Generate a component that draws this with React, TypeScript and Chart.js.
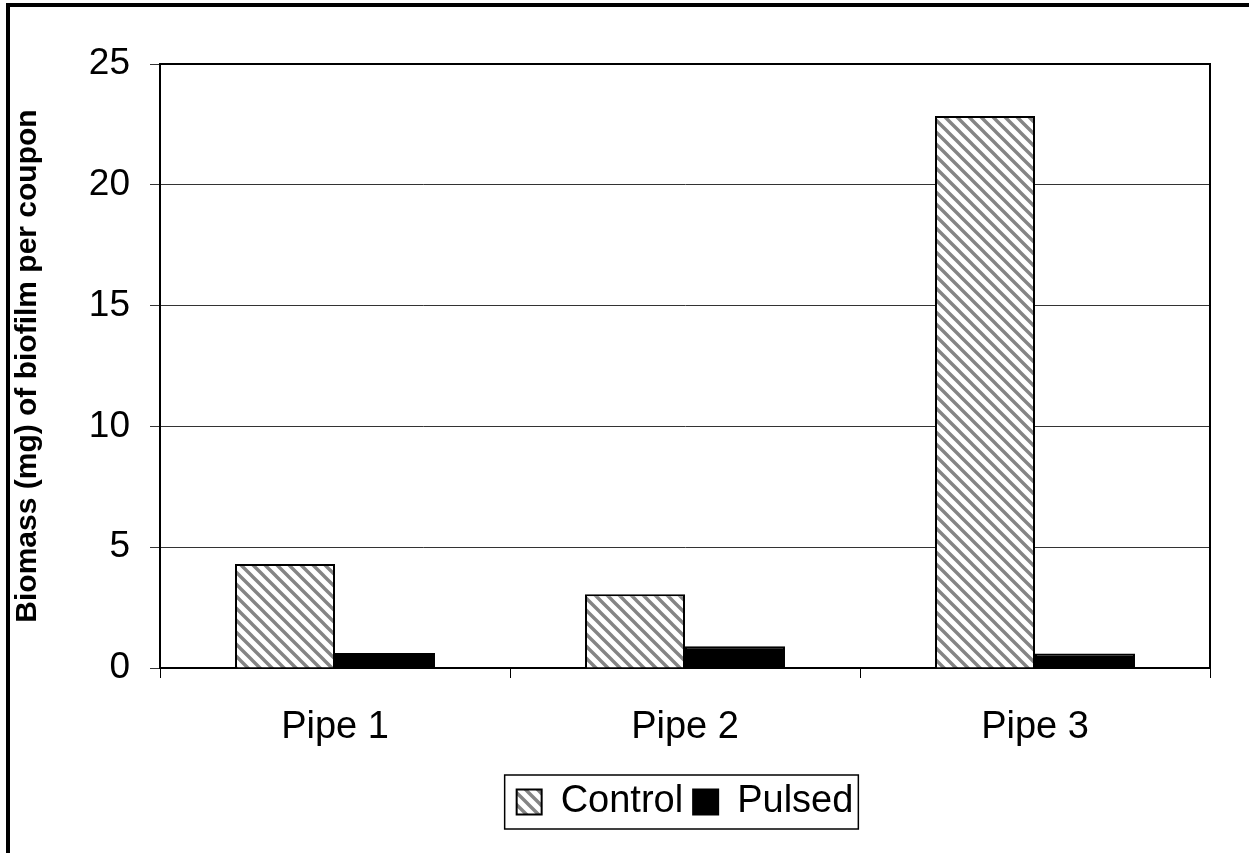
import React, { useEffect, useRef } from "react";
import { Chart, registerables } from "chart.js";

Chart.register(...registerables);

const categories = ["Pipe 1", "Pipe 2", "Pipe 3"];
const controlValues = [4.3, 3.05, 22.85];
const pulsedValues = [0.62, 0.9, 0.6];
const seriesNames = ["Control", "Pulsed"];
const yTicks = [0, 5, 10, 15, 20, 25];
const yTitle = "Biomass (mg) of biofilm per coupon";

const FONT = "'Liberation Sans', Arial, Helvetica, sans-serif";

function makeHatch(): CanvasPattern | string {
  const size = 12;
  const c = document.createElement("canvas");
  c.width = size;
  c.height = size;
  const ctx = c.getContext("2d");
  if (!ctx) return "#999";
  ctx.fillStyle = "#ffffff";
  ctx.fillRect(0, 0, size, size);
  ctx.strokeStyle = "#858585";
  ctx.lineWidth = 3.4;
  ctx.lineCap = "square";
  ctx.beginPath();
  ctx.moveTo(-size, -size);
  ctx.lineTo(size * 2, size * 2);
  ctx.moveTo(-size, 0);
  ctx.lineTo(size, size * 2);
  ctx.moveTo(0, -size);
  ctx.lineTo(size * 2, size);
  ctx.stroke();
  const p = ctx.createPattern(c, "repeat");
  return p || "#999";
}

const framePlugin = {
  id: "framePlugin",
  afterDraw(chart: any) {
    const { ctx, chartArea } = chart;
    ctx.save();
    ctx.strokeStyle = "#000";
    ctx.lineWidth = 2;
    ctx.beginPath();
    ctx.moveTo(chartArea.left, chartArea.top);
    ctx.lineTo(chartArea.right, chartArea.top);
    ctx.lineTo(chartArea.right, chartArea.bottom);
    ctx.stroke();
    const boxes = chart.legend && chart.legend.legendHitBoxes;
    if (boxes && boxes.length) {
      const first = boxes[0];
      const last = boxes[boxes.length - 1];
      const x0 = first.left - 12;
      const x1 = last.left + last.width + 5;
      const yc = first.top + first.height / 2;
      ctx.lineWidth = 1.5;
      ctx.strokeRect(x0, yc - 27, x1 - x0, 54);
    }
    ctx.fillStyle = "#000";
    ctx.fillRect(6, 3, chart.width - 6, 4);
    ctx.fillRect(6, 3, 4, chart.height - 3);
    ctx.restore();
  },
};

export default function App() {
  const ref = useRef<HTMLCanvasElement | null>(null);

  useEffect(() => {
    if (!ref.current) return;
    const hatch = makeHatch();
    const chart = new Chart(ref.current, {
      type: "bar",
      data: {
        labels: categories,
        datasets: [
          {
            label: seriesNames[0],
            data: controlValues,
            backgroundColor: hatch as any,
            borderColor: "#000",
            borderWidth: 2,
            categoryPercentage: 0.5714,
            barPercentage: 1.0,
          },
          {
            label: seriesNames[1],
            data: pulsedValues,
            backgroundColor: "#000",
            borderColor: "#000",
            borderWidth: 2,
            categoryPercentage: 0.5714,
            barPercentage: 1.0,
          },
        ],
      },
      options: {
        responsive: false,
        animation: false,
        devicePixelRatio: 1,
        layout: { padding: { left: 0, right: 39, top: 64, bottom: 22 } },
        plugins: {
          legend: {
            display: true,
            position: "bottom",
            fullSize: false,
            labels: {
              color: "#000",
              font: { family: FONT, size: 38 },
              boxWidth: 25,
              boxHeight: 25,
              padding: 10,
            },
          },
          tooltip: { enabled: false },
          title: { display: false },
        },
        scales: {
          x: {
            offset: true,
            grid: {
              display: true,
              offset: true,
              drawOnChartArea: false,
              drawTicks: true,
              tickLength: 10,
              color: "#000",
              lineWidth: 1,
            },
            border: { display: true, color: "#000", width: 2 },
            ticks: {
              color: "#000",
              font: { family: FONT, size: 38 },
              padding: 27,
              maxRotation: 0,
            },
            afterFit(scale: any) {
              scale.height = 105;
            },
          },
          y: {
            min: 0,
            max: 25,
            afterBuildTicks(scale: any) {
              scale.ticks = yTicks.map((v) => ({ value: v }));
            },
            grid: {
              display: true,
              drawTicks: true,
              tickLength: 10,
              color: "#333",
              lineWidth: 1,
            },
            border: { display: true, color: "#000", width: 2 },
            ticks: {
              color: "#000",
              font: { family: FONT, size: 37 },
              padding: 20,
            },
            title: {
              display: true,
              text: yTitle,
              color: "#000",
              font: { family: FONT, size: 30, weight: "bold" },
              padding: { top: 10, bottom: 0 },
            },
            afterFit(scale: any) {
              scale.width = 160;
            },
          },
        },
      },
      plugins: [framePlugin],
    });
    return () => chart.destroy();
  }, []);

  return (
    <div style={{ position: "absolute", left: 0, top: 0, width: 1249, height: 853, background: "#fff" }}>
      <canvas ref={ref} width={1249} height={853} style={{ display: "block" }} />
    </div>
  );
}
